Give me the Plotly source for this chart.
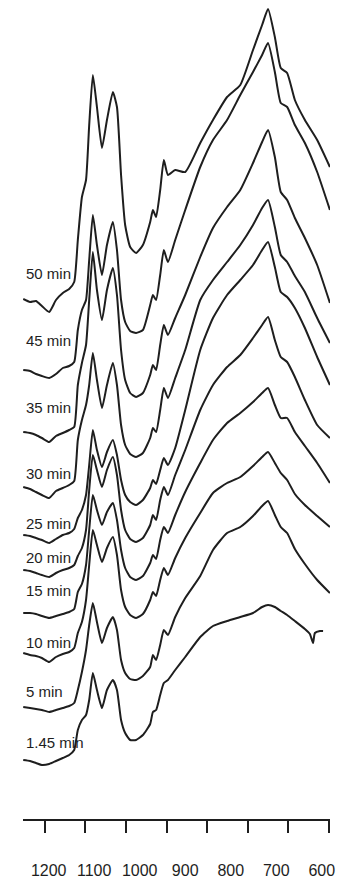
import plotly.graph_objects as go

# Wavenumber grid (cm-1) shared by the stacked spectra
wavenumber = [1256, 1241, 1228, 1215, 1199, 1184, 1169, 1155, 1144, 1136, 1127, 1118,
              1111, 1103, 1094, 1083, 1072, 1059, 1050, 1041, 1032, 1021, 1008, 993,
              977, 971, 964, 955, 947, 938, 922, 900, 867, 839, 808, 779, 751, 731,
              718, 703, 690, 676, 659, 637, 610, 582]

# The earliest spectrum was recorded on a slightly different grid at the low end
wavenumber_145 = wavenumber[:44] + [626, 619, 615, 604, 597]

# Stacked absorbance (arbitrary units, offset for display)
a_50 = [520, 517, 518, 513, 507, 519, 526, 530, 537, 579, 622, 639, 694, 744, 712, 671,
        699, 727, 712, 644, 594, 572, 566, 574, 597, 609, 602, 629, 659, 644, 649, 647,
        676, 699, 722, 734, 769, 794, 810, 782, 751, 746, 719, 699, 679, 652]
a_45 = [449, 448, 445, 443, 441, 445, 451, 453, 457, 489, 509, 519, 559, 604, 574, 544,
        574, 597, 569, 519, 497, 488, 486, 489, 514, 524, 519, 544, 569, 557, 579, 609,
        652, 679, 699, 724, 747, 764, 776, 747, 716, 712, 694, 676, 647, 609]
a_35 = [387, 386, 384, 381, 377, 383, 386, 389, 392, 434, 456, 474, 519, 567, 529, 499,
        529, 551, 524, 469, 439, 426, 422, 426, 444, 454, 449, 474, 494, 484, 501, 524,
        562, 591, 612, 629, 656, 677, 689, 662, 627, 619, 601, 581, 554, 516]
a_30 = [332, 330, 327, 324, 321, 328, 331, 334, 338, 379, 399, 414, 434, 466, 439, 411,
        434, 456, 434, 394, 374, 365, 362, 366, 381, 391, 387, 409, 431, 421, 441, 469,
        519, 539, 557, 574, 594, 611, 619, 592, 564, 557, 543, 527, 501, 476]
a_25 = [284, 283, 281, 279, 276, 280, 284, 286, 290, 301, 309, 324, 354, 389, 369, 352,
        367, 379, 364, 339, 324, 317, 314, 319, 331, 339, 335, 349, 361, 354, 371, 409,
        469, 501, 524, 539, 554, 569, 577, 552, 527, 522, 511, 491, 462, 434]
a_20 = [249, 248, 246, 244, 242, 246, 249, 251, 254, 263, 271, 289, 329, 364, 349, 332,
        349, 362, 344, 309, 289, 280, 277, 281, 294, 304, 299, 319, 332, 324, 344, 369,
        409, 434, 452, 464, 481, 494, 502, 479, 462, 457, 442, 419, 394, 381]
a_15 = [206, 206, 205, 203, 201, 203, 205, 207, 210, 227, 235, 254, 289, 324, 309, 294,
        307, 316, 299, 269, 251, 242, 239, 243, 256, 264, 260, 279, 292, 286, 304, 327,
        356, 379, 396, 406, 417, 426, 431, 414, 401, 401, 387, 373, 356, 336]
a_10 = [166, 164, 163, 161, 157, 162, 165, 167, 171, 186, 197, 219, 254, 289, 274, 257,
        271, 282, 264, 229, 212, 204, 201, 205, 219, 227, 223, 239, 251, 244, 261, 281,
        306, 326, 336, 342, 353, 362, 367, 356, 346, 339, 325, 314, 303, 292]
a_5 = [112, 111, 110, 109, 107, 109, 111, 113, 116, 129, 147, 169, 194, 216, 197, 176,
       191, 202, 189, 159, 146, 140, 139, 143, 152, 164, 159, 174, 189, 184, 202, 221,
       243, 269, 286, 292, 303, 313, 318, 304, 292, 286, 270, 255, 239, 226]
a_145 = [59, 58, 56, 54, 55, 58, 61, 64, 69, 89, 99, 104, 119, 146, 129, 111,
         129, 139, 129, 99, 86, 79, 79, 84, 95, 107, 109, 124, 136, 139, 149, 162,
         182, 193, 198, 202, 206, 212, 214, 212, 208, 204, 198, 190,
         185, 176, 186, 188, 188]

times = ["50 min", "45 min", "35 min", "30 min", "25 min",
         "20 min", "15 min", "10 min", "5 min", "1.45 min"]
spectra = [a_50, a_45, a_35, a_30, a_25, a_20, a_15, a_10, a_5, a_145]
grids = [wavenumber] * 9 + [wavenumber_145]

tick_labels = [1200, 1100, 1000, 900, 800, 700, 600]
tick_marks = list(range(8))

INK = "#1e1e1e"
FONT = "Liberation Sans, Arial, sans-serif"

fig = go.Figure()
for name, x, y in zip(times, grids, spectra):
    fig.add_trace(go.Scatter(
        x=x, y=y, mode="lines", name=name,
        line=dict(color=INK, width=2, shape="spline", smoothing=0.5),
        hoverinfo="skip", showlegend=False,
    ))

# empty series that registers the tick-mark scale so its axis is drawn
fig.add_trace(go.Scatter(
    x=tick_marks, y=[None] * len(tick_marks), xaxis="x2", yaxis="y",
    mode="lines", hoverinfo="skip", showlegend=False,
))

# Time labels at the left end of each spectrum
label_heights = [546, 479, 412, 346, 296, 262, 229, 177, 128, 77]
for name, h in zip(times, label_heights):
    fig.add_annotation(
        x=1254, y=h, xref="x", yref="y", text=name, showarrow=False,
        xanchor="left", yanchor="middle",
        font=dict(family=FONT, size=15, color=INK),
    )

fig.update_layout(
    width=342, height=882,
    margin=dict(l=23, r=12, t=0, b=63),
    paper_bgcolor="white", plot_bgcolor="white",
    showlegend=False,
    font=dict(family=FONT, size=16, color=INK),
    xaxis=dict(
        range=[1256.5, 581.8],
        tickmode="array", tickvals=tick_labels,
        ticktext=[str(v) for v in tick_labels],
        ticks="", showline=False, showgrid=False, zeroline=False,
        ticklabelstandoff=40,
        tickfont=dict(family=FONT, size=16, color=INK),
    ),
    # separate scale carrying the axis line and its evenly spaced tick marks
    xaxis2=dict(
        overlaying="x", anchor="y", side="bottom",
        range=[-0.543, 7.037],
        tickmode="array", tickvals=tick_marks,
        ticks="outside", ticklen=12, tickwidth=1.5, tickcolor=INK,
        showline=True, linewidth=2, linecolor=INK,
        showticklabels=False, showgrid=False, zeroline=False,
    ),
    yaxis=dict(range=[0, 819], visible=False),
)

fig.write_html("out.html")
